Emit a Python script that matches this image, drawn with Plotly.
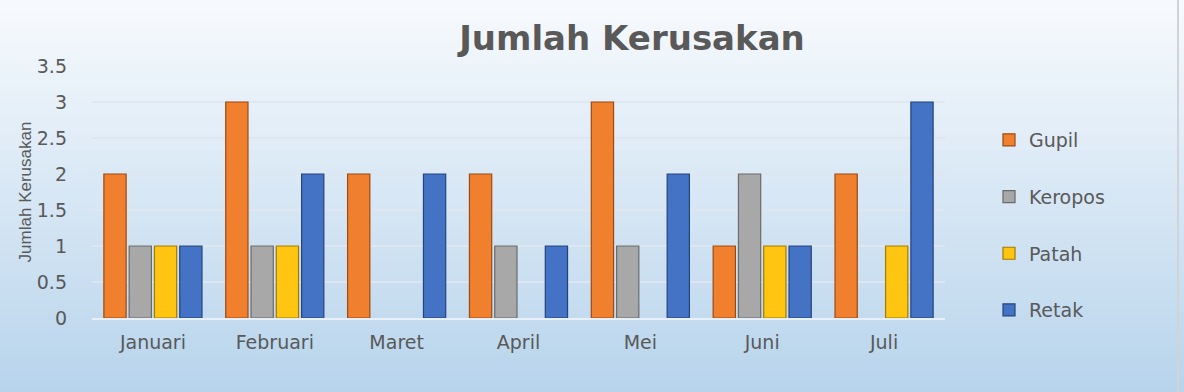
import plotly.graph_objects as go

months = ["Januari", "Februari", "Maret", "April", "Mei", "Juni", "Juli"]
gupil = [2, 3, 2, 2, 3, 1, 2]
keropos = [1, 1, 0, 1, 1, 2, 0]
patah = [1, 1, 0, 0, 0, 1, 1]
retak = [1, 2, 2, 1, 2, 1, 3]
series_names = ["Gupil", "Keropos", "Patah", "Retak"]
series_vals = [gupil, keropos, patah, retak]
colors = ["#F07F2E", "#A8A8A8", "#FFC510", "#4472C4"]
edges = ["#9C4A12", "#6B6B6B", "#A27A00", "#24447E"]

W, H = 1184, 392
L, R, T, B = 92, 239, 66, 74
pw, ph = W - L - R, H - T - B
WIDE = "DejaVu Sans"

fig = go.Figure()
for i, (n, v) in enumerate(zip(series_names, series_vals)):
    fig.add_trace(go.Bar(
        x=months, y=v, name=n,
        marker=dict(color=colors[i],
                    line=dict(color=edges[i], width=[1.2 if val else 0 for val in v])),
        legendgroup=n,
    ))

# background gradient (vertical)
shapes = []
N = 60
top = (247, 250, 253)
bot = (184, 212, 236)
x0 = -L / pw
x1 = 1 + R / pw
for k in range(N):
    f = k / (N - 1)
    c = tuple(int(round(top[j] + (bot[j] - top[j]) * f)) for j in range(3))
    ya = 1 + T / ph - (k / N) * (H / ph)
    yb = 1 + T / ph - ((k + 1) / N) * (H / ph)
    shapes.append(dict(type="rect", xref="paper", yref="paper",
                       x0=x0, x1=x1, y0=yb - 0.002, y1=ya + 0.002,
                       fillcolor="rgb(%d,%d,%d)" % c, line=dict(width=0),
                       layer="below"))
bx = (1178 - L) / pw
shapes.append(dict(type="line", xref="paper", yref="paper",
                   x0=bx, x1=bx, y0=-B / ph, y1=1 + T / ph,
                   line=dict(color="#d0d4d8", width=2), layer="above"))

fig.update_layout(
    width=W, height=H,
    margin=dict(l=L, r=R, t=T, b=B),
    paper_bgcolor="white",
    plot_bgcolor="rgba(0,0,0,0)",
    shapes=shapes,
    barmode="group",
    bargap=0.17,
    bargroupgap=0.12,
    title=dict(text="<b>Jumlah Kerusakan</b>", x=632 / W, xanchor="center",
               y=1 - 38 / H, yanchor="middle",
               font=dict(family=WIDE, size=34, color="#595959")),
    font=dict(family=WIDE, color="#595959"),
    showlegend=True,
    legend=dict(x=(989 - L) / pw, xanchor="left", y=(318 - 121) / ph, yanchor="top",
                font=dict(family=WIDE, size=19, color="#595959"),
                bgcolor="rgba(0,0,0,0)", tracegroupgap=29, itemwidth=30),
    xaxis=dict(tickfont=dict(family=WIDE, size=19, color="#595959"), showgrid=False,
               showline=True, linecolor="rgba(235,242,248,0.9)", linewidth=1.5,
               ticks="", ticklabelstandoff=6),
    yaxis=dict(range=[0, 3.5], dtick=0.5, tickfont=dict(family=WIDE, size=19, color="#595959"),
               showgrid=True, gridcolor="rgba(222,230,238,0.95)", gridwidth=1.5,
               zeroline=False, showline=False, ticks="", ticklabelstandoff=24,
               title=dict(text="Jumlah Kerusakan", standoff=0,
                          font=dict(family="Liberation Sans", size=17, color="#595959"))),
)

fig.write_html("out.html")
